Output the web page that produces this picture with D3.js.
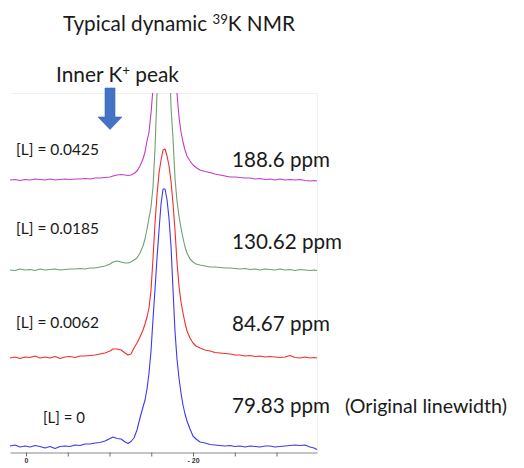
<!DOCTYPE html>
<html><head><meta charset="utf-8">
<script src="https://cdn.jsdelivr.net/npm/d3@7"></script>
<style>
body{margin:0;background:#fff}
svg{display:block}
text{font-family:Lato,"Open Sans",sans-serif;fill:#1a1a1a;white-space:pre}
</style>
</head><body>
<svg id="c" width="524" height="468"></svg>
<script>
// chemical shift grid (ppm), shared by all traces
const ppm = [1.92,1.32,0.72,0.12,-0.48,-1.08,-1.68,-2.28,-2.87,-3.47,
-4.07,-4.67,-5.27,-5.87,-6.47,-7.07,-7.66,-8.26,-8.86,-9.46,
-10.06,-10.42,-10.90,-11.38,-11.86,-12.22,-12.57,-12.93,-13.29,-13.65,
-14.01,-14.25,-14.49,-14.73,-14.97,-15.21,-15.45,-15.69,-15.93,-16.17,
-16.41,-16.65,-16.89,-17.13,-17.37,-17.60,-17.84,-18.08,-18.32,-18.56,
-18.80,-19.04,-19.28,-19.64,-20.00,-20.36,-20.84,-21.44,-22.04,-22.63,
-23.23,-23.83,-24.43,-25.03,-25.63,-26.23,-26.83,-27.43,-28.02,-28.62,
-29.22,-29.82,-30.42,-31.02,-31.62,-32.22,-32.81,-33.41,-34.01,-34.49,
-34.85];

// intensities (arbitrary units) for each ligand concentration
const intensityL0 = [1,2,0,1,0,1.5,0.5,-1,0.5,-1.5, 0.5,1,0.5,2,1.5,3,3,4,4.5,6,
8.5,10,8.5,8,5,3.5,5.5,9,17,29, 40,47,58,74,96,128,158,189,217,243,
258,258,247,228,200,158,116,88,69,54, 42,33,26,18,11,8,5,4,2.5,2,
1.5,1,1.5,0.5,1,0,1,0.5,0,1, 1,0,0.5,1,1.5,2,1.5,2,0,-1, -2.5];

const intensityL0062 = [0,1,-0.5,1,0.5,2,0,1,0,1.5, -0.5,1,1.5,0.5,2,2,2.5,3,4,5,
7,9,9,8,5,3,4,10,15,21, 28,34,41,50,68,100,135,163,185,198,
208,209,202,192,176,155,128,96,72,56, 45,35,27,20,15,12,10,8,7,5.5,
5,4.5,4,3,3,2,2.5,1.5,2,1, 1.5,1,0.5,1,2.5,0.5,0,1,0,0.5, 0];

const intensityL0185 = [0,-0.5,1,0,0.5,-0.5,1,0,0.5,1, 0,0.5,1,1,1.5,1,2,2,3,4,
6,8,9,8,7,7,8,10,12,17, 24,31,41,52,63,83,122,177,240,300,
340,340,300,225,162,132,92,69,54,42, 32,23,17,11,8,6,5,4,3,3,
2.5,2,2,1.5,1,1.5,0.5,1,0,1, 0.5,0,1,0,0.5,-0.5,0.5,0,-0.5,0, -0.5];

const intensityL0425 = [0,0.5,-0.5,0.5,0,1,0.5,0,1,0, 0.5,1,0.5,1,1,1.5,1,2,2,2.5,
3,4,5,5.5,5,4.5,5,6.5,9,14, 21,28,39,48,67,92,130,180,240,290,
320,320,290,240,190,145,110,87,63,48, 38,30,24,19,15,12.5,10,8.5,7.5,6,
5,4,3,3,2.5,2,2,1,1.5,0.5, 1,0,1,0,0.5,0,0.5,-0.5,-1,-0.5, -1];

const concLabels = ["[L] = 0", "[L] = 0.0062", "[L] = 0.0185", "[L] = 0.0425"];
const linewidths = ["79.83 ppm", "84.67 ppm", "130.62 ppm", "188.6 ppm"];
const tickValues = [0,-5,-10,-15,-20,-25,-30];
const tickLabels = ["0","","","","- 20","",""];

// ---- layout / style ----
const series = [intensityL0, intensityL0062, intensityL0185, intensityL0425];
const colors = ["#3a3af0", "#f22d2d", "#6fa06f", "#c43cc4"];
const stackOffsets = [0, 89, 177, 267];

const svg = d3.select("#c");
const x = d3.scaleLinear().domain([1.92, -34.85]).range([10, 317]);
const y = d3.scaleLinear().domain([0, 354]).range([447, 93]);

svg.append("defs").append("clipPath").attr("id","clip")
  .append("rect").attr("x",8).attr("y",93).attr("width",312).attr("height",370);

// faint frame
svg.append("path").attr("d","M10.5,93.5H317.5V452")
  .attr("fill","none").attr("stroke","#f0f0f0");

const plot = svg.append("g").attr("clip-path","url(#clip)");
const order = [3,2,1,0];
order.forEach(k => {
  const line = d3.line().x((d,i)=>x(ppm[i])).y(d=>y(d + stackOffsets[k]));
  plot.append("path").datum(series[k]).attr("d", line)
    .attr("fill","none").attr("stroke", colors[k]).attr("stroke-width",1.1)
    .attr("stroke-linejoin","round");
});

// axis
const ax = svg.append("g").attr("transform","translate(0,452.5)")
  .call(d3.axisBottom(x).tickValues(tickValues).tickSize(4).tickSizeOuter(0).tickPadding(2)
    .tickFormat((d,i)=>tickLabels[i]));
ax.select(".domain").attr("stroke","#8a8a8a");
ax.selectAll(".tick line").attr("stroke","#6a6a6a");
ax.selectAll(".tick text").attr("font-size",7).attr("font-weight","bold")
  .style("font-family","Arial, 'Liberation Sans', sans-serif").style("fill","#333");

// text helper: fit to target width
function richText(x0, y0, parts, targetW){
  const t = svg.append("text").attr("x",x0).attr("y",y0);
  function build(fs){
    t.selectAll("tspan").remove();
    let shift = 0;
    parts.forEach(p=>{
      const s = p.sup ? -0.3*fs : 0;
      t.append("tspan").attr("font-size", p.sup ? fs*0.64 : fs).attr("dy", s - shift).text(p.t);
      shift = s;
    });
  }
  build(20);
  const w = t.node().getComputedTextLength();
  build(20*targetW/w);
  return t;
}

richText(63, 30.5, [{t:"Typical dynamic "},{t:"39",sup:true},{t:"K NMR"}], 232);
richText(56, 81.5, [{t:"Inner K"},{t:"+",sup:true},{t:" peak"}], 123);

// arrow
svg.append("path")
  .attr("d","M105,88 L115,88 L115,117 L122,117 L110,129.5 L98,117 L105,117 Z")
  .attr("fill","#4472c4").attr("stroke","#3b64ad").attr("stroke-width",0.6);

// concentration labels
const concPos = [[43,423,42],[16,328,83],[16,233.5,83],[16,155,83]];
concLabels.forEach((s,k)=>richText(concPos[k][0], concPos[k][1], [{t:s}], concPos[k][2]));

// linewidth labels
const lwPos = [[232,413,98],[232,330.5,98],[232,249,110],[232,166.5,98]];
linewidths.forEach((s,k)=>richText(lwPos[k][0], lwPos[k][1], [{t:s}], lwPos[k][2]));
richText(345, 413, [{t:"(Original linewidth)"}], 162);
</script>
</body></html>
